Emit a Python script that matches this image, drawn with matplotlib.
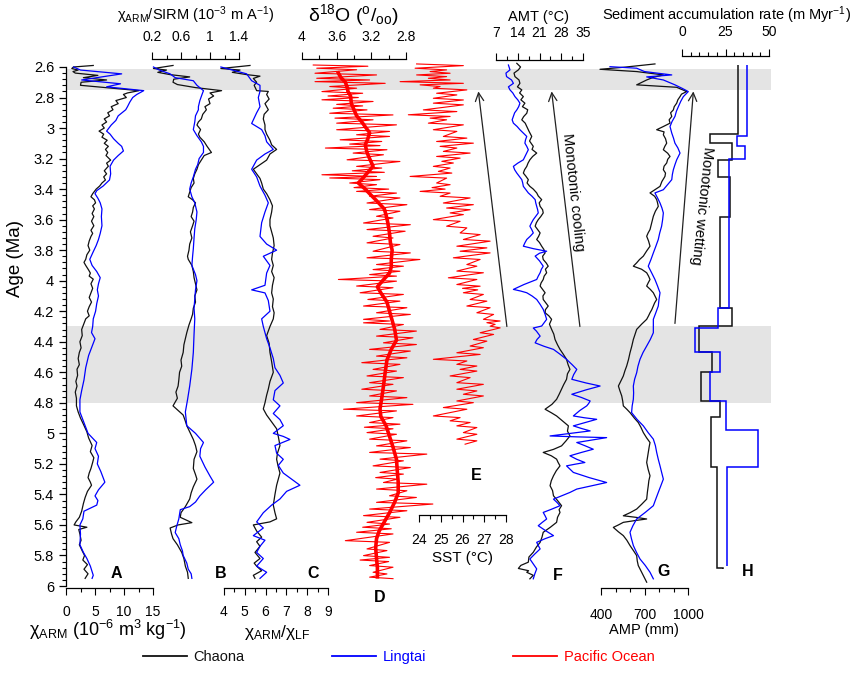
import numpy as np
import matplotlib
matplotlib.use('Agg')
import matplotlib.pyplot as plt
from matplotlib.ticker import MultipleLocator, FixedLocator, FuncFormatter
from matplotlib.lines import Line2D

plt.rcParams['font.family'] = ['Liberation Sans', 'DejaVu Sans']
plt.rcParams['mathtext.fontset'] = 'custom'
plt.rcParams['mathtext.rm'] = 'Liberation Sans'
plt.rcParams['mathtext.it'] = 'Liberation Sans:italic'
plt.rcParams['mathtext.bf'] = 'Liberation Sans:bold'

# ---- data: (age Ma, value) ----
# A: chi_ARM (10^-6 m3/kg)
arm_chaona = [(2.59,4.7),(2.60,1.3),(2.61,1.0),(2.62,2.1),(2.63,1.2),(2.64,1.6),(2.655,5.5),(2.67,3.0),(2.685,7.0),(2.70,2.6),(2.72,2.5),(2.755,12.6),(2.77,10.6),(2.78,9.9),(2.80,10.4),(2.82,8.6),(2.84,9.0),(2.86,7.8),(2.88,8.1),(2.90,7.2),(2.92,7.5),(2.94,6.6),(2.96,7.0),(2.98,6.2),(3.00,6.6),(3.02,5.7),(3.04,6.5),(3.06,6.2),(3.08,7.1),(3.10,6.6),(3.12,7.3),(3.14,6.8),(3.16,7.2),(3.18,6.9),(3.21,7.7),(3.23,7.0),(3.25,7.3),(3.28,6.6),(3.30,7.0),(3.32,6.5),(3.34,6.8),(3.36,6.2),(3.38,5.8),(3.40,5.2),(3.43,4.6),(3.45,4.3),(3.47,4.9),(3.49,5.1),(3.51,4.6),(3.53,4.9),(3.56,4.5),(3.58,4.8),(3.61,4.4),(3.64,4.8),(3.67,4.3),(3.69,4.6),(3.71,4.3),(3.74,4.0),(3.77,3.8),(3.80,4.1),(3.83,3.6),(3.86,3.4),(3.88,3.1),(3.90,3.4),(3.93,3.9),(3.95,4.2),(3.97,4.0),(3.99,4.7),(4.02,4.3),(4.05,4.6),(4.08,4.3),(4.11,4.0),(4.14,4.4),(4.17,4.0),(4.20,3.7),(4.23,4.0),(4.25,3.4),(4.28,3.1),(4.32,2.7),(4.36,2.8),(4.40,2.4),(4.44,2.6),(4.47,2.3),(4.51,2.1),(4.55,2.3),(4.58,1.9),(4.62,2.0),(4.66,1.7),(4.69,1.9),(4.73,1.6),(4.77,1.8),(4.82,1.8),(4.86,2.1),(4.90,2.5),(4.94,3.0),(4.99,3.6),(5.03,3.9),(5.08,4.5),(5.12,4.2),(5.16,4.8),(5.19,4.6),(5.23,4.3),(5.26,4.0),(5.29,3.8),(5.32,4.2),(5.34,4.4),(5.38,3.7),(5.42,3.3),(5.46,3.0),(5.51,2.7),(5.55,2.3),(5.58,1.7),(5.60,1.4),(5.615,3.6),(5.63,2.2),(5.66,2.4),(5.70,2.6),(5.73,2.3),(5.77,2.8),(5.80,3.2),(5.83,2.9),(5.86,3.7),(5.89,3.1),(5.92,3.8),(5.95,3.3)]
arm_lingtai = [(2.60,1.3),(2.62,2.5),(2.645,9.6),(2.685,2.7),(2.71,9.4),(2.73,7.0),(2.755,13.4),(2.78,12.2),(2.80,11.5),(2.83,11.0),(2.86,10.6),(2.88,10.3),(2.92,9.0),(2.95,8.6),(2.98,7.8),(3.02,7.0),(3.04,7.6),(3.07,8.2),(3.10,9.0),(3.12,9.6),(3.15,9.9),(3.18,9.0),(3.21,8.2),(3.25,7.6),(3.30,7.7),(3.34,7.5),(3.38,6.4),(3.41,5.3),(3.43,5.0),(3.46,5.5),(3.49,5.9),(3.53,6.2),(3.58,6.1),(3.64,6.2),(3.69,5.9),(3.73,5.6),(3.77,5.2),(3.81,4.7),(3.86,4.1),(3.90,4.5),(3.94,5.3),(3.98,5.9),(4.02,5.6),(4.06,5.4),(4.10,5.6),(4.15,5.3),(4.20,5.1),(4.25,4.7),(4.30,4.6),(4.34,4.4),(4.38,5.0),(4.49,3.9),(4.57,3.4),(4.65,3.1),(4.72,2.7),(4.78,2.4),(4.86,2.4),(4.95,3.3),(5.00,3.8),(5.06,5.3),(5.10,5.0),(5.15,5.6),(5.20,5.4),(5.25,6.0),(5.32,6.7),(5.37,5.6),(5.41,5.0),(5.44,5.5),(5.47,5.3),(5.51,3.1),(5.56,2.9),(5.60,2.4),(5.66,2.5),(5.73,2.4),(5.78,3.0),(5.82,3.6),(5.87,4.2),(5.93,4.7),(5.95,4.5)]

# B: chi_ARM/SIRM (10^-3 m/A)
sirm_chaona = [(2.59,0.49),(2.61,0.22),(2.62,0.40),(2.635,0.28),(2.65,0.45),(2.665,0.72),(2.68,0.50),(2.70,0.49),(2.715,0.55),(2.735,0.80),(2.755,1.16),(2.77,1.00),(2.79,1.05),(2.81,0.98),(2.84,1.00),(2.86,0.93),(2.88,0.95),(2.91,0.90),(2.94,0.88),(2.96,0.84),(2.98,0.82),(3.01,0.87),(3.04,0.84),(3.06,0.86),(3.09,0.92),(3.12,0.96),(3.14,0.99),(3.16,1.02),(3.18,0.92),(3.21,0.88),(3.24,0.84),(3.27,0.82),(3.30,0.79),(3.33,0.77),(3.36,0.78),(3.39,0.74),(3.42,0.72),(3.45,0.70),(3.47,0.76),(3.49,0.80),(3.52,0.77),(3.55,0.76),(3.58,0.74),(3.61,0.78),(3.64,0.76),(3.68,0.73),(3.72,0.75),(3.76,0.72),(3.80,0.71),(3.84,0.69),(3.86,0.70),(3.90,0.75),(3.94,0.77),(3.98,0.78),(4.02,0.80),(4.06,0.82),(4.10,0.79),(4.14,0.80),(4.18,0.77),(4.22,0.76),(4.25,0.74),(4.29,0.71),(4.34,0.68),(4.38,0.66),(4.42,0.64),(4.47,0.63),(4.52,0.60),(4.56,0.61),(4.60,0.58),(4.65,0.57),(4.69,0.56),(4.73,0.53),(4.77,0.55),(4.82,0.49),(4.85,0.56),(4.88,0.63),(4.92,0.66),(4.95,0.68),(5.00,0.73),(5.04,0.77),(5.08,0.80),(5.12,0.82),(5.17,0.78),(5.23,0.77),(5.27,0.80),(5.30,0.82),(5.35,0.77),(5.39,0.74),(5.43,0.72),(5.48,0.66),(5.52,0.60),(5.55,0.59),(5.585,0.75),(5.60,0.56),(5.62,0.45),(5.66,0.47),(5.69,0.49),(5.73,0.55),(5.78,0.61),(5.82,0.64),(5.87,0.66),(5.91,0.69),(5.95,0.70)]
sirm_lingtai = [(2.60,0.22),(2.62,0.30),(2.645,0.45),(2.67,0.52),(2.69,0.77),(2.72,0.82),(2.755,0.91),(2.78,0.89),(2.82,0.86),(2.86,0.84),(2.88,0.84),(2.92,0.80),(2.96,0.79),(3.01,0.77),(3.05,0.82),(3.09,0.88),(3.12,0.91),(3.16,0.91),(3.20,0.85),(3.24,0.83),(3.27,0.80),(3.32,0.77),(3.36,0.74),(3.40,0.72),(3.45,0.75),(3.49,0.79),(3.55,0.82),(3.60,0.81),(3.66,0.79),(3.72,0.78),(3.79,0.77),(3.84,0.76),(3.90,0.75),(3.96,0.80),(4.00,0.82),(4.06,0.80),(4.12,0.79),(4.18,0.78),(4.25,0.79),(4.35,0.78),(4.47,0.77),(4.58,0.75),(4.69,0.72),(4.78,0.69),(4.86,0.66),(4.95,0.68),(5.00,0.80),(5.06,0.91),(5.10,0.87),(5.15,0.86),(5.22,0.93),(5.28,1.00),(5.32,1.05),(5.37,0.94),(5.41,0.86),(5.45,0.80),(5.48,0.72),(5.50,0.59),(5.56,0.57),(5.61,0.54),(5.65,0.52),(5.69,0.57),(5.73,0.59),(5.77,0.62),(5.80,0.63),(5.85,0.68),(5.89,0.70),(5.92,0.74),(5.95,0.75)]

# C: chi_ARM/chi_LF
lf_chaona = [(2.59,5.25),(2.61,3.85),(2.62,4.77),(2.635,4.40),(2.65,5.09),(2.66,5.73),(2.675,5.41),(2.70,5.57),(2.72,5.45),(2.755,5.57),(2.76,6.13),(2.78,6.05),(2.81,6.17),(2.84,5.97),(2.88,6.13),(2.91,5.93),(2.94,5.89),(2.98,5.97),(3.01,5.97),(3.04,6.05),(3.08,6.21),(3.11,6.29),(3.14,6.53),(3.17,6.21),(3.21,6.05),(3.24,5.73),(3.27,5.41),(3.30,5.57),(3.33,5.73),(3.36,5.81),(3.40,5.89),(3.43,6.05),(3.47,6.21),(3.51,6.33),(3.55,6.29),(3.60,6.21),(3.64,6.21),(3.68,6.29),(3.72,6.37),(3.77,6.41),(3.82,6.33),(3.86,6.29),(3.90,6.37),(3.94,6.29),(3.98,6.41),(4.03,6.33),(4.08,6.29),(4.12,6.37),(4.17,6.33),(4.21,6.41),(4.25,6.37),(4.30,6.21),(4.36,6.05),(4.41,6.17),(4.47,6.21),(4.53,6.29),(4.60,6.37),(4.66,6.21),(4.71,6.13),(4.75,6.05),(4.80,5.97),(4.84,5.89),(4.88,6.05),(4.91,6.21),(4.97,6.53),(5.02,6.61),(5.08,6.69),(5.13,6.57),(5.17,6.53),(5.22,6.61),(5.26,6.69),(5.30,6.61),(5.34,6.53),(5.40,6.45),(5.47,6.37),(5.52,6.45),(5.56,6.53),(5.58,6.21),(5.60,5.41),(5.64,5.57),(5.68,5.81),(5.71,5.57),(5.74,5.73),(5.78,5.49),(5.82,5.73),(5.85,5.45),(5.87,5.57),(5.90,5.81),(5.93,5.41),(5.95,5.49)]
lf_lingtai = [(2.60,3.85),(2.645,5.09),(2.69,5.33),(2.72,5.73),(2.76,5.73),(2.80,5.65),(2.86,5.73),(2.90,5.57),(2.97,5.33),(3.01,5.81),(3.05,5.97),(3.09,6.05),(3.14,6.37),(3.17,5.97),(3.21,5.57),(3.27,5.33),(3.32,5.57),(3.38,5.73),(3.44,5.97),(3.49,6.13),(3.55,5.97),(3.62,5.81),(3.71,5.73),(3.76,6.05),(3.80,6.53),(3.84,5.89),(3.90,6.21),(3.95,6.05),(4.03,5.97),(4.06,5.33),(4.08,5.97),(4.13,6.13),(4.20,6.21),(4.25,5.81),(4.30,5.89),(4.38,6.05),(4.44,6.21),(4.51,6.37),(4.57,6.45),(4.62,6.69),(4.67,6.85),(4.72,6.45),(4.78,6.37),(4.82,6.69),(4.87,6.37),(4.91,6.69),(4.95,6.85),(5.00,6.37),(5.02,6.85),(5.04,7.17),(5.08,6.45),(5.13,6.53),(5.17,6.85),(5.21,6.61),(5.26,6.85),(5.30,7.25),(5.34,7.65),(5.38,7.01),(5.43,6.69),(5.47,6.29),(5.52,5.89),(5.55,5.73),(5.58,5.57),(5.62,5.89),(5.67,5.41),(5.70,5.97),(5.74,5.73),(5.78,5.57),(5.82,5.89),(5.87,5.57),(5.91,6.05),(5.95,5.73)]

# D: Pacific benthic d18O (permil), raw and smoothed
d18o_raw = [(2.587,3.87),(2.595,3.24),(2.608,3.83),(2.618,3.37),(2.641,3.85),(2.652,3.14),(2.674,3.83),(2.685,3.22),(2.696,3.85),(2.707,3.04),(2.728,3.68),(2.739,3.37),(2.761,3.77),(2.772,3.30),(2.79,3.70),(2.80,3.35),(2.815,3.77),(2.826,3.18),(2.845,3.60),(2.855,3.30),(2.870,3.64),(2.881,3.25),(2.903,3.68),(2.914,2.95),(2.935,3.62),(2.946,3.18),(2.968,3.60),(2.979,2.91),(3.011,3.60),(3.022,2.99),(3.044,3.37),(3.055,2.99),(3.077,3.56),(3.088,3.08),(3.105,3.45),(3.115,3.10),(3.131,3.73),(3.142,3.02),(3.164,3.41),(3.175,3.06),(3.208,3.48),(3.219,2.87),(3.251,3.37),(3.262,3.08),(3.28,3.42),(3.29,3.05),(3.306,3.77),(3.317,3.14),(3.327,3.68),(3.338,3.10),(3.360,3.45),(3.371,3.14),(3.39,3.40),(3.40,3.00),(3.415,3.37),(3.426,2.91),(3.447,3.22),(3.458,2.87),(3.491,3.25),(3.502,2.79),(3.534,3.22),(3.545,2.87),(3.578,3.14),(3.589,2.95),(3.622,3.29),(3.633,2.75),(3.665,3.25),(3.676,2.81),(3.709,3.18),(3.720,2.95),(3.752,3.25),(3.763,2.87),(3.807,3.18),(3.818,2.75),(3.850,3.25),(3.861,2.64),(3.894,3.14),(3.905,2.83),(3.927,3.18),(3.938,2.87),(3.96,3.22),(3.97,2.91),(3.992,3.58),(4.003,2.91),(4.035,3.37),(4.046,2.95),(4.079,3.33),(4.090,2.83),(4.123,3.24),(4.134,2.87),(4.166,3.29),(4.177,2.79),(4.210,3.14),(4.221,2.75),(4.253,3.29),(4.264,2.99),(4.276,3.29),(4.287,2.83),(4.319,3.10),(4.330,2.68),(4.363,3.14),(4.374,2.72),(4.407,3.06),(4.418,2.68),(4.450,3.22),(4.461,2.75),(4.494,3.14),(4.505,2.79),(4.537,3.31),(4.548,2.87),(4.581,3.18),(4.592,2.91),(4.624,3.25),(4.635,2.83),(4.668,3.22),(4.679,2.95),(4.711,3.31),(4.722,2.91),(4.755,3.22),(4.766,2.79),(4.799,3.37),(4.810,2.72),(4.842,3.52),(4.853,2.91),(4.886,3.37),(4.897,2.95),(4.929,3.22),(4.940,2.87),(4.96,3.28),(4.97,2.95),(4.995,3.25),(5.006,2.91),(5.038,3.22),(5.049,2.79),(5.082,3.14),(5.093,2.75),(5.125,3.22),(5.136,2.56),(5.169,3.10),(5.180,2.83),(5.213,3.18),(5.224,2.75),(5.256,3.10),(5.267,2.83),(5.29,3.15),(5.30,2.90),(5.322,3.06),(5.333,2.56),(5.365,3.14),(5.376,2.79),(5.409,2.99),(5.420,2.68),(5.452,3.14),(5.463,2.49),(5.496,3.22),(5.507,2.79),(5.539,3.29),(5.550,2.87),(5.583,3.25),(5.594,2.99),(5.615,3.30),(5.625,2.97),(5.648,3.37),(5.659,2.95),(5.703,3.50),(5.714,2.99),(5.757,3.25),(5.768,3.02),(5.801,3.29),(5.812,2.99),(5.83,3.33),(5.84,3.00),(5.866,3.22),(5.877,2.95),(5.910,3.18),(5.921,3.02),(5.942,3.22),(5.952,2.95)]
d18o_mean = [(2.64,3.58),(2.67,3.55),(2.70,3.50),(2.73,3.48),(2.76,3.47),(2.79,3.44),(2.84,3.43),(2.88,3.40),(2.92,3.37),(2.96,3.31),(3.00,3.26),(3.03,3.22),(3.07,3.24),(3.11,3.27),(3.16,3.25),(3.20,3.22),(3.25,3.18),(3.29,3.24),(3.33,3.30),(3.36,3.35),(3.40,3.27),(3.43,3.22),(3.47,3.15),(3.50,3.10),(3.53,3.05),(3.57,3.03),(3.62,3.01),(3.69,2.99),(3.75,2.98),(3.80,2.96),(3.86,2.97),(3.91,2.97),(3.95,2.99),(4.00,3.07),(4.04,3.13),(4.08,3.09),(4.14,3.02),(4.20,2.99),(4.26,2.96),(4.32,2.93),(4.39,2.91),(4.45,2.97),(4.52,3.02),(4.60,3.04),(4.69,3.06),(4.77,3.08),(4.84,3.10),(4.89,3.09),(4.95,3.03),(5.02,2.99),(5.09,2.95),(5.17,2.91),(5.25,2.90),(5.32,2.89),(5.39,2.89),(5.45,2.93),(5.52,2.99),(5.58,3.05),(5.64,3.11),(5.69,3.14),(5.75,3.15),(5.82,3.14),(5.88,3.13),(5.94,3.13)]

# E: Pacific SST (deg C)
sst = [(2.580,23.89),(2.591,26.04),(2.608,23.82),(2.619,25.27),(2.630,24.51),(2.641,25.43),(2.652,23.89),(2.663,25.27),(2.674,24.43),(2.685,25.43),(2.696,23.13),(2.707,26.04),(2.717,24.05),(2.728,24.97),(2.739,24.66),(2.750,26.20),(2.772,24.81),(2.783,25.74),(2.805,24.66),(2.816,26.04),(2.837,24.66),(2.848,26.04),(2.881,24.20),(2.892,25.74),(2.913,23.51),(2.924,25.43),(2.935,24.51),(2.946,25.27),(2.968,24.43),(2.979,26.04),(3.011,24.66),(3.022,25.74),(3.055,25.12),(3.066,26.20),(3.088,24.81),(3.099,26.50),(3.120,24.97),(3.131,25.74),(3.153,25.12),(3.164,26.35),(3.186,24.81),(3.197,25.89),(3.218,25.05),(3.229,25.58),(3.251,24.66),(3.262,25.43),(3.284,24.89),(3.295,25.51),(3.317,23.59),(3.328,25.27),(3.360,24.81),(3.371,25.43),(3.39,24.60),(3.40,25.20),(3.415,24.05),(3.426,25.43),(3.447,24.97),(3.458,26.35),(3.491,25.12),(3.502,26.50),(3.524,25.27),(3.535,26.35),(3.556,25.43),(3.567,26.04),(3.600,24.66),(3.611,25.89),(3.643,25.27),(3.654,26.20),(3.687,25.89),(3.698,26.81),(3.730,26.04),(3.741,27.27),(3.774,25.74),(3.785,27.12),(3.807,25.89),(3.818,27.27),(3.850,25.58),(3.861,26.81),(3.894,26.20),(3.905,26.66),(3.937,25.74),(3.948,26.96),(3.981,25.35),(3.992,26.66),(4.025,25.74),(4.036,26.81),(4.050,26.00),(4.060,26.70),(4.079,26.04),(4.090,26.96),(4.123,26.35),(4.134,27.12),(4.166,26.20),(4.177,27.27),(4.210,26.66),(4.221,27.43),(4.253,26.96),(4.264,27.73),(4.275,27.12),(4.286,27.50),(4.298,27.27),(4.309,27.73),(4.341,26.81),(4.352,27.43),(4.385,26.50),(4.396,27.12),(4.428,26.35),(4.439,26.96),(4.472,25.74),(4.483,26.81),(4.515,24.66),(4.526,26.20),(4.548,25.74),(4.559,26.66),(4.581,25.89),(4.592,26.66),(4.624,25.43),(4.635,26.35),(4.668,25.74),(4.679,26.96),(4.711,25.74),(4.722,26.66),(4.744,26.04),(4.755,26.96),(4.788,25.74),(4.799,26.50),(4.831,25.12),(4.842,26.20),(4.886,24.66),(4.897,25.89),(4.918,25.43),(4.929,26.35),(4.951,25.74),(4.962,26.66),(4.995,26.04),(5.006,26.66),(5.038,25.74),(5.049,26.66),(5.071,26.12)]

# F: AMT (deg C)
amt_chaona = [(2.576,13.7),(2.60,14.9),(2.619,14.2),(2.64,12.8),(2.663,13.1),(2.685,14.4),(2.707,14.7),(2.73,13.9),(2.750,15.3),(2.77,14.6),(2.794,15.8),(2.815,15.0),(2.837,16.3),(2.86,15.5),(2.880,17.2),(2.903,16.9),(2.925,15.9),(2.946,15.3),(2.968,16.4),(2.990,16.9),(3.02,17.6),(3.055,18.5),(3.085,17.8),(3.120,19.0),(3.14,18.6),(3.164,20.1),(3.186,18.8),(3.208,17.9),(3.23,17.3),(3.251,16.9),(3.273,16.2),(3.295,15.8),(3.315,16.6),(3.338,17.4),(3.36,17.0),(3.382,17.9),(3.40,19.0),(3.425,20.1),(3.445,20.6),(3.469,21.7),(3.49,20.9),(3.513,21.2),(3.535,22.0),(3.556,22.2),(3.58,21.4),(3.600,20.6),(3.62,20.0),(3.643,19.6),(3.665,20.4),(3.687,21.2),(3.71,20.7),(3.730,20.1),(3.75,21.0),(3.774,21.7),(3.795,22.4),(3.818,22.8),(3.84,22.0),(3.861,22.2),(3.885,23.2),(3.905,23.8),(3.925,22.9),(3.948,23.3),(3.97,22.5),(3.992,22.2),(4.015,21.5),(4.035,21.2),(4.057,22.0),(4.079,22.8),(4.10,22.1),(4.123,22.2),(4.145,23.0),(4.166,23.8),(4.19,22.9),(4.210,22.8),(4.23,24.0),(4.253,24.9),(4.285,24.2),(4.319,24.9),(4.35,25.6),(4.385,26.0),(4.42,26.8),(4.450,27.6),(4.48,28.6),(4.515,29.7),(4.55,30.2),(4.581,30.8),(4.61,30.0),(4.646,29.7),(4.68,28.8),(4.711,28.1),(4.745,27.3),(4.777,26.5),(4.81,25.0),(4.842,22.8),(4.865,24.8),(4.886,26.5),(4.92,28.5),(4.951,30.3),(4.985,30.0),(5.017,30.8),(5.05,29.5),(5.082,28.1),(5.105,25.5),(5.125,22.2),(5.147,24.8),(5.169,26.5),(5.191,27.0),(5.213,27.6),(5.245,26.4),(5.278,25.5),(5.31,24.8),(5.343,24.4),(5.375,25.2),(5.409,25.5),(5.44,26.8),(5.474,28.1),(5.50,27.3),(5.518,27.6),(5.55,26.8),(5.583,26.5),(5.615,24.5),(5.648,22.2),(5.68,21.8),(5.714,21.2),(5.745,20.0),(5.779,19.0),(5.81,17.6),(5.844,17.4),(5.865,15.0),(5.885,14.2),(5.90,17.5),(5.910,16.9),(5.93,19.0),(5.953,17.9)]
amt_lingtai = [(2.587,11.0),(2.619,11.5),(2.640,10.2),(2.663,10.4),(2.685,12.0),(2.707,12.6),(2.730,11.0),(2.750,11.5),(2.770,12.4),(2.794,13.1),(2.815,14.0),(2.837,14.7),(2.860,14.3),(2.881,13.7),(2.900,13.0),(2.924,12.6),(2.946,12.2),(2.968,12.6),(2.990,13.8),(3.011,14.7),(3.033,15.8),(3.055,16.9),(3.077,16.5),(3.099,16.3),(3.120,16.9),(3.142,17.4),(3.175,16.6),(3.208,15.8),(3.230,14.0),(3.251,12.6),(3.273,13.0),(3.295,13.7),(3.316,14.5),(3.338,15.3),(3.360,15.6),(3.382,15.8),(3.404,16.6),(3.425,17.4),(3.447,18.6),(3.469,19.6),(3.491,19.8),(3.513,20.1),(3.535,20.4),(3.556,20.6),(3.578,19.8),(3.600,19.0),(3.622,18.4),(3.643,17.9),(3.665,18.5),(3.687,19.0),(3.709,18.0),(3.730,16.9),(3.752,16.3),(3.774,15.8),(3.790,19.0),(3.807,23.3),(3.820,21.0),(3.839,19.6),(3.870,21.0),(3.905,22.2),(3.925,21.6),(3.948,21.2),(3.970,20.6),(3.992,20.1),(4.025,16.0),(4.057,12.6),(4.068,15.0),(4.079,16.9),(4.100,18.6),(4.123,20.1),(4.155,21.2),(4.188,22.2),(4.220,22.8),(4.253,23.3),(4.275,22.5),(4.297,21.7),(4.310,19.0),(4.330,20.0),(4.363,21.2),(4.385,20.2),(4.407,19.6),(4.430,22.5),(4.450,25.5),(4.480,27.5),(4.515,29.7),(4.550,31.5),(4.581,33.0),(4.615,32.0),(4.646,31.4),(4.670,36.0),(4.690,40.5),(4.715,36.0),(4.744,31.4),(4.765,34.5),(4.788,37.3),(4.805,36.8),(4.820,36.2),(4.850,34.0),(4.886,31.9),(4.898,35.5),(4.908,39.4),(4.930,35.5),(4.951,31.9),(4.968,34.5),(4.984,37.3),(5.000,31.0),(5.017,24.4),(5.023,33.0),(5.028,42.6),(5.045,37.5),(5.060,33.0),(5.080,35.5),(5.104,38.3),(5.125,34.5),(5.147,30.8),(5.170,33.0),(5.191,35.6),(5.202,32.5),(5.213,29.7),(5.235,30.8),(5.256,31.9),(5.290,37.0),(5.322,42.6),(5.345,37.5),(5.365,33.0),(5.387,30.8),(5.410,28.0),(5.431,25.5),(5.452,26.6),(5.474,27.6),(5.496,25.0),(5.518,22.2),(5.540,22.8),(5.561,23.3),(5.583,21.9),(5.605,20.6),(5.638,23.0),(5.670,25.5),(5.690,22.8),(5.714,20.1),(5.735,20.6),(5.757,21.2),(5.790,19.5),(5.823,17.9),(5.855,19.0),(5.888,20.1),(5.920,19.5),(5.953,19.0)]

# G: AMP (mm)
amp_chaona = [(2.580,772),(2.602,554),(2.615,393),(2.630,646),(2.652,830),(2.668,760),(2.685,715),(2.717,646),(2.733,922),(2.761,991),(2.778,955),(2.794,945),(2.815,930),(2.837,922),(2.86,905),(2.881,899),(2.90,880),(2.924,888),(2.946,870),(2.968,876),(2.99,830),(3.011,784),(3.025,835),(3.044,830),(3.07,845),(3.099,853),(3.12,840),(3.142,830),(3.165,860),(3.186,876),(3.205,860),(3.229,853),(3.25,835),(3.273,830),(3.295,845),(3.317,841),(3.35,820),(3.382,807),(3.405,770),(3.425,738),(3.447,770),(3.469,784),(3.49,790),(3.513,795),(3.545,775),(3.578,761),(3.60,755),(3.622,749),(3.645,742),(3.665,738),(3.687,725),(3.709,715),(3.74,728),(3.774,738),(3.805,715),(3.839,692),(3.862,665),(3.883,646),(3.905,623),(3.925,680),(3.948,715),(3.97,728),(3.992,738),(4.015,725),(4.035,715),(4.057,740),(4.079,761),(4.10,772),(4.123,784),(4.145,770),(4.166,761),(4.19,750),(4.210,738),(4.23,728),(4.253,715),(4.285,680),(4.319,646),(4.35,635),(4.385,623),(4.43,612),(4.472,600),(4.515,590),(4.559,577),(4.59,565),(4.624,554),(4.66,535),(4.690,520),(4.72,530),(4.755,543),(4.79,550),(4.820,554),(4.842,578),(4.864,600),(4.90,630),(4.929,657),(4.96,675),(4.995,692),(5.03,715),(5.060,738),(5.09,732),(5.125,726),(5.16,720),(5.191,715),(5.235,725),(5.278,738),(5.31,730),(5.343,726),(5.385,720),(5.431,715),(5.465,680),(5.496,646),(5.520,600),(5.540,554),(5.550,640),(5.561,715),(5.572,630),(5.583,554),(5.600,520),(5.616,485),(5.645,520),(5.670,554),(5.70,578),(5.735,600),(5.77,625),(5.801,646),(5.835,650),(5.866,657),(5.90,675),(5.932,692),(5.975,715)]
amp_lingtai = [(2.598,462),(2.608,646),(2.630,700),(2.652,888),(2.665,715),(2.685,830),(2.717,910),(2.740,960),(2.761,1002),(2.794,968),(2.825,950),(2.859,934),(2.890,920),(2.924,910),(2.957,890),(2.990,876),(3.033,888),(3.066,900),(3.099,910),(3.130,930),(3.164,945),(3.208,922),(3.240,910),(3.273,899),(3.305,892),(3.338,888),(3.370,860),(3.404,830),(3.425,772),(3.458,790),(3.491,807),(3.523,820),(3.556,830),(3.600,825),(3.643,818),(3.687,805),(3.730,795),(3.775,778),(3.818,761),(3.860,745),(3.905,726),(3.950,750),(3.992,772),(4.035,790),(4.079,807),(4.123,800),(4.166,795),(4.210,778),(4.253,761),(4.297,761),(4.341,761),(4.385,740),(4.428,715),(4.470,690),(4.515,669),(4.560,655),(4.603,646),(4.645,632),(4.690,623),(4.735,625),(4.777,623),(4.820,615),(4.864,611),(4.910,650),(4.951,692),(4.995,725),(5.038,761),(5.080,775),(5.125,784),(5.170,795),(5.213,807),(5.255,818),(5.300,830),(5.345,812),(5.387,795),(5.430,778),(5.474,761),(5.518,705),(5.561,646),(5.605,620),(5.648,600),(5.690,610),(5.735,623),(5.780,645),(5.823,669),(5.865,705),(5.910,738),(5.953,761)]

# H: sediment accumulation rate (m/Myr), step records
sar_chaona_edges = [2.585, 3.04, 3.10, 3.21, 3.32, 3.58, 4.18, 4.30, 4.47, 4.60, 4.79, 4.89, 5.22, 5.88, 5.886]
sar_chaona = [32.3, 16.1, 28.5, 20.8, 27.6, 21.8, 28.5, 10.0, 17.0, 11.2, 21.8, 16.5, 19.9, 23.5]
sar_lingtai_edges = [2.585, 3.05, 3.12, 3.20, 4.18, 4.31, 4.47, 4.60, 4.79, 4.98, 5.22, 5.87]
sar_lingtai = [37.1, 31.4, 36.2, 27.1, 20.8, 7.2, 21.8, 16.1, 25.1, 43.8, 25.6]

age_ticks = [2.6, 2.8, 3.0, 3.2, 3.4, 3.6, 3.8, 4.0, 4.2, 4.4, 4.6, 4.8, 5.0, 5.2, 5.4, 5.6, 5.8, 6.0]
bands = [(2.61, 2.75), (4.3, 4.8)]

BLACK, BLUE, RED = '#111111', '#0000ff', '#ff0000'

W, H = 851, 676
fig = plt.figure(figsize=(W / 100, H / 100), dpi=100)

AGE_TOP, AGE_BOT = 2.575, 6.0
PY_BOT, PX_PER_MA = 586.0, 152.65
py_top = PY_BOT - (AGE_BOT - AGE_TOP) * PX_PER_MA
ax_b = 1 - PY_BOT / H
ax_h = (PY_BOT - py_top) / H


def frame(px0, px1):
    return [px0 / W, ax_b, (px1 - px0) / W, ax_h]


gfmt = FuncFormatter(lambda v, p: f'{v:g}')

# main age axis + grey bands
main = fig.add_axes(frame(66, 771))
main.set_ylim(AGE_BOT, AGE_TOP)
main.set_xlim(0, 1)
for s in ['top', 'right', 'bottom']:
    main.spines[s].set_visible(False)
main.spines['left'].set_bounds(2.6, 6.0)
main.spines['left'].set_linewidth(0.9)
main.set_xticks([])
main.yaxis.set_major_locator(FixedLocator(age_ticks))
main.yaxis.set_minor_locator(MultipleLocator(0.04))
main.yaxis.set_major_formatter(gfmt)
main.tick_params(axis='y', which='major', length=5, width=0.9, labelsize=10.5)
main.tick_params(axis='y', which='minor', length=3, width=0.8)
for lo, hi in bands:
    main.axhspan(lo, hi, color='#e4e4e4', lw=0, zorder=0)


def panel(px0, px1, xlim, side, majors, minor, spine_pos, pad):
    ax = fig.add_axes(frame(px0, px1))
    ax.set_xlim(*xlim)
    ax.set_ylim(AGE_BOT, AGE_TOP)
    ax.patch.set_visible(False)
    for s in ax.spines.values():
        s.set_visible(False)
    ax.spines[side].set_visible(True)
    ax.spines[side].set_position(spine_pos)
    ax.spines[side].set_linewidth(0.9)
    ax.set_yticks([])
    ax.xaxis.set_ticks_position(side)
    ax.xaxis.set_major_locator(FixedLocator(majors))
    ax.xaxis.set_minor_locator(MultipleLocator(minor))
    ax.xaxis.set_major_formatter(gfmt)
    ax.tick_params(axis='x', which='major', length=5, width=0.8, labelsize=10, pad=pad)
    ax.tick_params(axis='x', which='minor', length=3, width=0.8)
    return ax


def curve(ax, pts, color, lw=0.9):
    a, v = zip(*pts)
    ax.plot(v, a, color=color, lw=lw, clip_on=False)


ax_a = panel(66, 153, (0, 15), 'bottom', [0, 5, 10, 15], 2.5, ('outward', 1.5), 7)
curve(ax_a, arm_chaona, BLACK)
curve(ax_a, arm_lingtai, BLUE)

ax_bb = panel(152, 239, (0.2, 1.4), 'top', [0.2, 0.6, 1.0, 1.4], 0.2, ('outward', 3), 6)
curve(ax_bb, sirm_chaona, BLACK)
curve(ax_bb, sirm_lingtai, BLUE)

ax_c = panel(224, 328, (4, 9), 'bottom', [4, 5, 6, 7, 8, 9], 0.5, ('outward', 1.5), 7)
curve(ax_c, lf_chaona, BLACK)
curve(ax_c, lf_lingtai, BLUE)

ax_d = panel(302, 406, (4, 2.8), 'top', [4, 3.6, 3.2, 2.8], 0.2, ('outward', 3), 6)
curve(ax_d, d18o_raw, RED, lw=0.8)
curve(ax_d, d18o_mean, RED, lw=2.6)

ax_e = panel(419, 506, (24, 28), 'bottom', [24, 25, 26, 27, 28], 0.5, ('data', 5.535), 8)
curve(ax_e, sst, RED, lw=0.8)

ax_f = panel(496, 583, (7, 35), 'top', [7, 14, 21, 28, 35], 3.5, ('outward', 2.5), 9)
curve(ax_f, amt_chaona, BLACK)
curve(ax_f, amt_lingtai, BLUE)

ax_g = panel(601, 688, (400, 1000), 'bottom', [400, 700, 1000], 100, ('outward', 1.5), 9)
curve(ax_g, amp_chaona, BLACK)
curve(ax_g, amp_lingtai, BLUE)

ax_hh = panel(682, 769, (0, 50), 'top', [0, 25, 50], 5, ('outward', 5.5), 7)
ax_hh.stairs(sar_chaona, sar_chaona_edges, orientation='horizontal', baseline=None,
             color=BLACK, lw=1.1, clip_on=False)
ax_hh.stairs(sar_lingtai, sar_lingtai_edges, orientation='horizontal', baseline=None,
             color=BLUE, lw=1.1, clip_on=False)

# trend arrows
arrow = dict(arrowstyle='->,head_length=0.6,head_width=0.3', color='#222222', lw=0.9,
             shrinkA=0, shrinkB=0)
ax_e.annotate('', xy=(26.73, 2.76), xytext=(28.04, 4.30), arrowprops=arrow, annotation_clip=False)
ax_f.annotate('', xy=(24.9, 2.76), xytext=(34.0, 4.30), arrowprops=arrow, annotation_clip=False)
ax_g.annotate('', xy=(1037, 2.76), xytext=(910, 4.28), arrowprops=arrow, annotation_clip=False)
ax_f.text(31.8, 3.42, 'Monotonic cooling', rotation=-84, ha='center', va='center',
          fontsize=10.5, rotation_mode='anchor', clip_on=False)
ax_g.text(1094, 3.51, 'Monotonic wetting', rotation=-96, ha='center', va='center',
          fontsize=10.5, rotation_mode='anchor', clip_on=False)


def ftext(px, py, s, **kw):
    fig.text(px / W, 1 - py / H, s, ha='center', va='center', **kw)


# axis titles (upright Greek letters as in the original)
ftext(196, 15, 'χ$_{\\mathrm{ARM}}$/SIRM (10$^{-3}$ m A$^{-1}$)', fontsize=10.5)
ftext(353, 15, 'δ$^{18}$O ($^{\\mathrm{o}}/_{\\mathrm{oo}}$)', fontsize=14)
ftext(538, 17, 'AMT (°C)', fontsize=10.5)
ftext(727, 15, 'Sediment accumulation rate (m Myr$^{-1}$)', fontsize=10.5)
ftext(108, 630, 'χ$_{\\mathrm{ARM}}$ (10$^{-6}$ m$^{3}$ kg$^{-1}$)', fontsize=13)
ftext(277, 632, 'χ$_{\\mathrm{ARM}}$/χ$_{\\mathrm{LF}}$', fontsize=12.5)
ftext(462, 558, 'SST (°C)', fontsize=11)
ftext(644, 630, 'AMP (mm)', fontsize=10.5)
fig.text(15 / W, 1 - 258 / H, 'Age (Ma)', rotation=90, ha='center', va='center', fontsize=13.5)

# panel letters
for s, px, py in [('A', 116, 573), ('B', 221, 573), ('C', 313, 573), ('D', 380, 597),
                  ('E', 476, 475), ('F', 558, 575), ('G', 664, 572), ('H', 748, 572)]:
    ftext(px, py, s, fontsize=11.5, fontweight='bold')

# legend
handles = [Line2D([], [], color=BLACK, lw=1.3), Line2D([], [], color=BLUE, lw=1.3),
           Line2D([], [], color=RED, lw=1.3)]
leg = fig.legend(handles, ['Chaona', 'Lingtai', 'Pacific Ocean'], loc='center left',
                 bbox_to_anchor=(143 / W, 1 - 657 / H), ncol=3, frameon=False, fontsize=10.5,
                 handlelength=3.0, handletextpad=0.45, columnspacing=6.0,
                 borderaxespad=0, borderpad=0)
for t, c in zip(leg.get_texts(), [BLACK, BLUE, RED]):
    t.set_color(c)

fig.savefig('out.png', dpi=100)
